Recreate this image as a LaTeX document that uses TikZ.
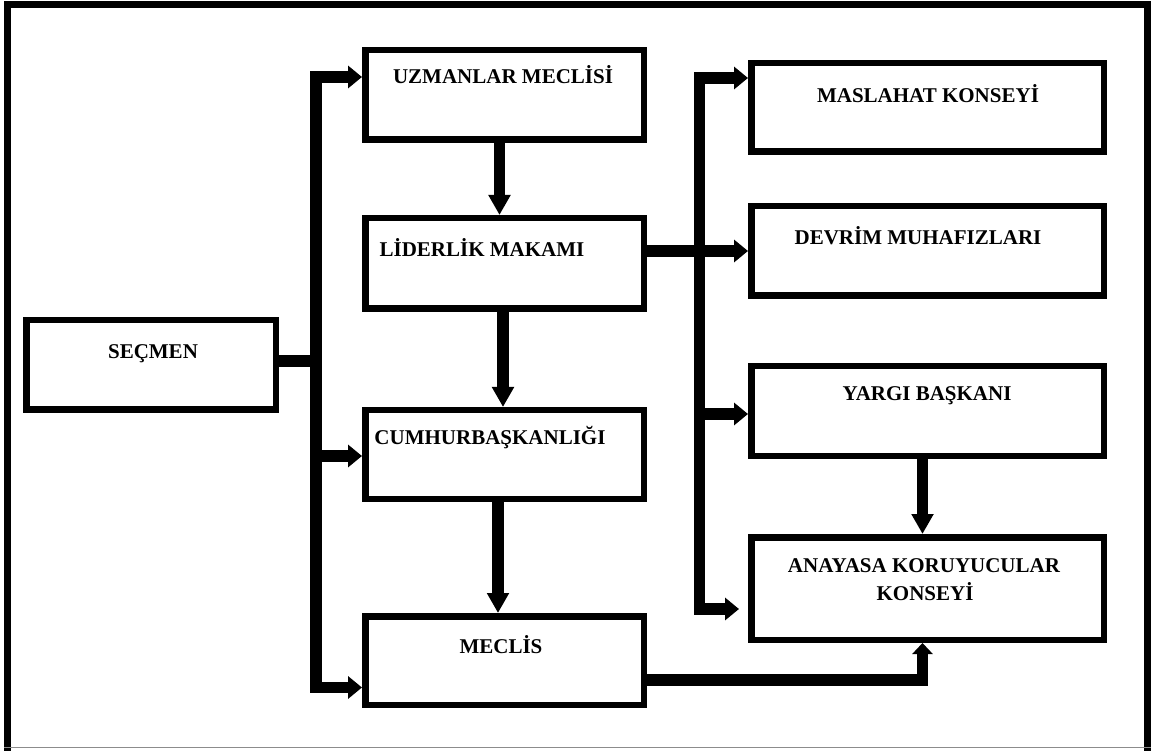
\documentclass[tikz,border=0pt]{standalone}
\usepackage{fontspec}
\setmainfont{Liberation Serif}
\usetikzlibrary{arrows.meta}
\begin{document}
\begin{tikzpicture}[x=1pt,y=-1pt,
  box/.style={draw, line width=6.5pt, rectangle, inner sep=0pt},
  lbl/.style={font=\bfseries\fontsize{21}{26}\selectfont, anchor=base, inner sep=0pt},
  conn/.style={line width=11.5pt, line join=miter},
  harr/.style={-{Triangle[length=14pt,width=22pt]}},
  varr/.style={-{Triangle[length=20pt,width=21pt]}}]
\useasboundingbox (0,0) rectangle (1152,751);
% outer frame
\draw[line width=7.5pt] (7.5,790) -- (7.5,4.75) -- (1147.5,4.75) -- (1147.5,790);
\draw[line width=1pt, black!45] (4,747.5) -- (1151,747.5);
% boxes
\node[box, minimum width=278.5pt, minimum height=89.5pt] (uz)  at (504.5,95) {};
\node[box, minimum width=278.5pt, minimum height=90.5pt] (lid) at (504.5,263.5) {};
\node[box, minimum width=278.5pt, minimum height=88.5pt] (cum) at (504.5,454.5) {};
\node[box, minimum width=278.5pt, minimum height=88.5pt] (mec) at (504.5,660.5) {};
\node[box, minimum width=249.5pt, minimum height=89.5pt] (sec) at (151,365) {};
\node[box, minimum width=352.5pt, minimum height=88.5pt] (mas) at (927.5,107.5) {};
\node[box, minimum width=352.5pt, minimum height=89.5pt] (dev) at (927.5,251) {};
\node[box, minimum width=352.5pt, minimum height=89.5pt] (yar) at (927.5,411) {};
\node[box, minimum width=352.5pt, minimum height=102.5pt] (ana) at (927.5,588.5) {};
% labels
\node[lbl] (tuz)  at (503,84)  {UZMANLAR MECLİSİ};
\node[lbl] (tlid) at (482,257) {LİDERLİK MAKAMI};
\node[lbl] (tsec) at (153,359) {SEÇMEN};
\node[lbl] (tcum) at (490,444) {CUMHURBAŞKANLIĞI};
\node[lbl] (tmec) at (501,653) {MECLİS};
\node[lbl] (tmas) at (928,103) {MASLAHAT KONSEYİ};
\node[lbl] (tdev) at (918,245) {DEVRİM MUHAFIZLARI};
\node[lbl] (tyar) at (927,401) {YARGI BAŞKANI};
\node[lbl] (tana1) at (924,572) {ANAYASA KORUYUCULAR};
\node[lbl] (tana2) at (925,600) {KONSEYİ};
% left bus
\draw[conn, {Triangle[length=14pt,width=22pt]}-{Triangle[length=14pt,width=22pt]}]
  (uz.west |- 0,77) -- (316,77) -- (316,687.5) -- (mec.west |- 0,687.5);
\draw[conn, harr] (316,456) -- (cum.west |- 0,456);
\draw[conn] (sec.east |- 0,361) -- (316,361);
% right bus
\draw[conn, {Triangle[length=14pt,width=22pt]}-{Triangle[length=14pt,width=22pt]}, shorten >=9pt]
  (mas.west |- 0,78) -- (699.5,78) -- (699.5,609) -- (ana.west |- 0,609);
\draw[conn, harr] (lid.east |- 0,251) -- (dev.west |- 0,251);
\draw[conn, harr] (699.5,414) -- (yar.west |- 0,414);
% vertical arrows
\draw[conn, varr] (uz.south -| 499.5,0) -- (lid.north -| 499.5,0);
\draw[conn, varr] (lid.south -| 503,0) -- (cum.north -| 503,0);
\draw[conn, varr] (cum.south -| 498,0) -- (mec.north -| 498,0);
\draw[conn, varr] (yar.south -| 922.5,0) -- (ana.north -| 922.5,0);
\draw[conn, -{Triangle[length=11pt,width=20pt]}]
  (mec.east |- 0,680) -- (922.5,680) -- (ana.south -| 922.5,0);
\end{tikzpicture}
\end{document}
